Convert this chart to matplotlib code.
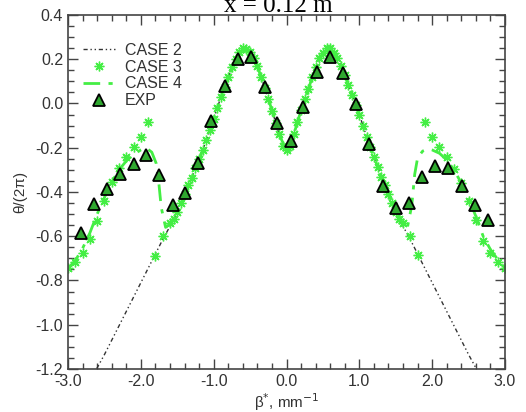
import matplotlib
matplotlib.use("Agg")
import matplotlib.pyplot as plt
from matplotlib.ticker import MultipleLocator, FormatStrFormatter

plt.rcParams['font.family'] = ['Liberation Sans', 'DejaVu Sans']
plt.rcParams['axes.unicode_minus'] = False

# CASE 2 (dash-dot-dot black line)
case2_x = [-2.7, -2.6, -2.5, -2.4, -2.3, -2.2, -2.1, -2.0, -1.9, -1.8, -1.7, -1.6,
           -1.5, -1.4, -1.3, -1.2, -1.1, -1.0, -0.9, -0.8, -0.7, -0.6, -0.5, -0.4,
           -0.3, -0.2, -0.1, 0.0, 0.1, 0.2, 0.3, 0.4, 0.5, 0.6, 0.7, 0.8, 0.9, 1.0,
           1.1, 1.2, 1.3, 1.4, 1.5, 1.6, 1.7, 1.8, 1.9, 2.0, 2.1, 2.2, 2.3, 2.4, 2.5,
           2.6, 2.7]
case2_y = [-1.26, -1.195, -1.135, -1.07, -1.005, -0.94, -0.875, -0.81, -0.745, -0.68, -0.615, -0.555,
           -0.49, -0.41, -0.335, -0.255, -0.165, -0.07, 0.03, 0.12, 0.2, 0.245, 0.235, 0.17,
           0.07, -0.03, -0.14, -0.215, -0.14, -0.03, 0.065, 0.165, 0.23, 0.245, 0.205, 0.13, 0.04, -0.05,
           -0.15, -0.24, -0.33, -0.41, -0.49, -0.555, -0.615, -0.68, -0.745, -0.81, -0.875, -0.94, -1.005, -1.07, -1.135,
           -1.195, -1.26]

# CASE 3 (green asterisks)
case3_x = [-3.0, -2.9, -2.8, -2.7, -2.6, -2.5, -2.4, -2.3, -2.2, -2.1, -2.0, -1.9,
           -1.8, -1.7, -1.6, -1.55, -1.5, -1.45, -1.4, -1.35, -1.3, -1.25, -1.2, -1.15,
           -1.1, -1.05, -1.0, -0.95, -0.9, -0.85, -0.8, -0.75, -0.7, -0.65, -0.6, -0.55,
           -0.5, -0.45, -0.4, -0.35, -0.3, -0.25, -0.2, -0.15, -0.1, -0.05, 0.0, 0.05,
           0.1, 0.15, 0.2, 0.25, 0.3, 0.35, 0.4, 0.45, 0.5, 0.55, 0.6, 0.65,
           0.7, 0.75, 0.8, 0.85, 0.9, 0.95, 1.0, 1.05, 1.1, 1.15, 1.2, 1.25,
           1.3, 1.35, 1.4, 1.45, 1.5, 1.55, 1.6, 1.7, 1.8, 1.9, 2.0, 2.1,
           2.2, 2.3, 2.4, 2.5, 2.6, 2.7, 2.8, 2.9, 3.0]
case3_y = [-0.745, -0.718, -0.677, -0.614, -0.531, -0.44, -0.353, -0.29, -0.243, -0.198, -0.153, -0.082,
           -0.689, -0.6, -0.541, -0.52, -0.49, -0.45, -0.41, -0.37, -0.335, -0.29, -0.25, -0.21,
           -0.165, -0.12, -0.07, -0.02, 0.03, 0.075, 0.12, 0.165, 0.2, 0.235, 0.25, 0.245,
           0.235, 0.205, 0.17, 0.12, 0.07, 0.02, -0.035, -0.09, -0.14, -0.19, -0.21, -0.19,
           -0.14, -0.085, -0.03, 0.02, 0.065, 0.12, 0.165, 0.205, 0.23, 0.25, 0.25, 0.23,
           0.205, 0.17, 0.13, 0.085, 0.04, -0.005, -0.05, -0.1, -0.15, -0.195, -0.24, -0.285,
           -0.33, -0.37, -0.41, -0.45, -0.49, -0.52, -0.539, -0.599, -0.685, -0.082, -0.153, -0.198,
           -0.243, -0.297, -0.361, -0.44, -0.527, -0.62, -0.674, -0.715, -0.745]

# CASE 4 (green dash-dot line)
case4_x = [-3.0, -2.9, -2.8, -2.7, -2.6, -2.5, -2.4, -2.3, -2.2, -2.1, -2.0, -1.93,
           -1.85, -1.79, -1.75, -1.72, -1.66, -1.6, -1.5, -1.4, -1.3, -1.2, -1.1, -1.0,
           -0.9, -0.8, -0.7, -0.6, -0.5, -0.4, -0.3, -0.2, -0.1, 0.0, 0.1, 0.2,
           0.3, 0.4, 0.5, 0.6, 0.7, 0.8, 0.9, 1.0, 1.1, 1.2, 1.3, 1.4,
           1.5, 1.6, 1.66, 1.72, 1.76, 1.8, 1.87, 1.95, 2.0, 2.1, 2.2, 2.3,
           2.4, 2.5, 2.6, 2.7, 2.8, 2.9, 3.0]
case4_y = [-0.745, -0.71, -0.655, -0.585, -0.5, -0.425, -0.355, -0.3, -0.26, -0.23, -0.21, -0.2,
           -0.22, -0.27, -0.37, -0.47, -0.56, -0.545, -0.48, -0.41, -0.335, -0.255, -0.165, -0.07,
           0.03, 0.12, 0.2, 0.245, 0.235, 0.17, 0.07, -0.03, -0.14, -0.215, -0.14, -0.03,
           0.065, 0.165, 0.23, 0.245, 0.205, 0.13, 0.04, -0.05, -0.15, -0.24, -0.33, -0.41,
           -0.48, -0.545, -0.56, -0.46, -0.32, -0.245, -0.215, -0.205, -0.21, -0.225, -0.255, -0.3,
           -0.36, -0.43, -0.51, -0.6, -0.66, -0.705, -0.745]

# EXP (triangles)
exp_x = [-2.826, -2.643, -2.465, -2.286, -2.094, -1.925, -1.75, -1.563, -1.39, -1.21, -1.03,
         -0.844, -0.661, -0.487, -0.30, -0.126, 0.062, 0.231, 0.414, 0.597, 0.77, 0.954,
         1.137, 1.33, 1.50, 1.687, 1.866, 2.045, 2.223, 2.405, 2.588, 2.762]
exp_y = [-0.584, -0.456, -0.385, -0.319, -0.275, -0.231, -0.323, -0.459, -0.403, -0.267, -0.078,
         0.079, 0.200, 0.209, 0.073, -0.087, -0.168, -0.017, 0.141, 0.212, 0.136, -0.002,
         -0.183, -0.371, -0.471, -0.451, -0.331, -0.282, -0.293, -0.371, -0.459, -0.527]

green = '#44ee44'
dark = '#333333'

fig = plt.figure(figsize=(5.26, 4.12), dpi=100)
ax = fig.add_axes([0.1293, 0.1044, 0.8308, 0.8592])

ax.plot(case2_x, case2_y, color=dark, lw=1.0, linestyle=(0, (3, 2, 1, 2, 1, 2)), label='CASE 2')
ax.plot(case3_x, case3_y, linestyle='none', marker=(8, 2, 0), markersize=7,
        markeredgewidth=1.0, color=green, label='CASE 3')
ax.plot(case4_x, case4_y, color=green, lw=2.0, linestyle=(0, (6, 3, 1.5, 3)), label='CASE 4')
ax.plot(exp_x, exp_y, linestyle='none', marker='^', markersize=8, markerfacecolor='#2fa82f',
        markeredgecolor='black', markeredgewidth=1.3, label='EXP')

ax.set_xlim(-3.0, 3.0)
ax.set_ylim(-1.2, 0.4)
ax.xaxis.set_major_locator(MultipleLocator(1.0))
ax.xaxis.set_minor_locator(MultipleLocator(0.2))
ax.yaxis.set_major_locator(MultipleLocator(0.2))
ax.yaxis.set_minor_locator(MultipleLocator(0.05))
ax.xaxis.set_major_formatter(FormatStrFormatter('%.1f'))
ax.yaxis.set_major_formatter(FormatStrFormatter('%.1f'))
ax.tick_params(which='both', direction='in', top=True, right=True, color='#444444',
               labelcolor='#333333', labelsize=11.5)
ax.tick_params(which='major', length=7, width=1)
ax.tick_params(which='minor', length=4, width=1)
for s in ax.spines.values():
    s.set_color('#444444')
    s.set_linewidth(1.2)

ax.set_xlabel('β$^{*}$, mm$^{-1}$', fontsize=11, color='#333333', labelpad=2)
ax.set_ylabel('θ/(2π)', fontsize=11, color='#333333', labelpad=6)

ax.legend(loc='upper left', bbox_to_anchor=(0.02, 0.94), frameon=False, fontsize=11.5,
          handlelength=2.0, handletextpad=0.6, labelspacing=0.12, borderaxespad=0.0,
          labelcolor='#333333')

# title is clipped by the top edge, as in the source image
fig.text(0.53, 0.971, 'x = 0.12 m', ha='center', va='baseline', fontsize=18,
         family=['Liberation Serif', 'DejaVu Serif'])

fig.savefig('out.png', dpi=100)
